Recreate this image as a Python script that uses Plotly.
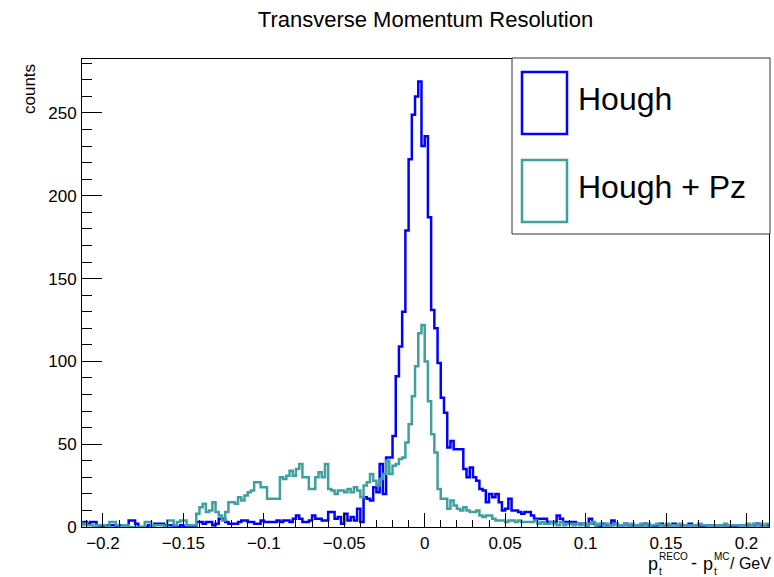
import plotly.graph_objects as go

# ---------------- data ----------------
X_MIN = -0.214
BIN_W = 0.002

hough = [
    2, 3, 2, 3, 3, 1, 0, 0, 1, 1, 1, 0, 1, 1, 1, 4, 4, 2, 0, 0,
    0, 1, 1, 2, 2, 2, 1, 1, 1, 0, 0, 1, 0, 0, 0, 0, 3, 3, 2, 3,
    3, 1, 2, 5, 5, 3, 2, 2, 2, 3, 4, 4, 3, 3, 2, 2, 4, 3, 3, 3,
    3, 4, 3, 4, 4, 3, 5, 7, 5, 3, 3, 4, 7, 5, 5, 4, 4, 9,
    9, 5, 6, 2, 8, 4, 6, 4, 11, 3, 18, 17, 16, 24, 21, 38, 20, 42, 42, 55,
    91, 109, 130, 179, 222, 249, 260, 269, 230,
    236, 187, 131, 120, 99, 78, 69, 48, 52, 47,
    47, 47, 35, 30, 36, 30, 28, 23, 22, 15,
    20, 18, 20, 15, 10, 11, 17, 10, 10, 9,
    8, 9, 9, 7, 5, 5, 5, 5, 3, 3,
    3, 7, 5, 3, 3, 3, 3, 2, 2, 2,
    1, 5, 2, 1, 0, 2, 1, 1, 4, 2,
    1, 1, 2, 1, 1, 1, 1, 1, 2, 1,
    1, 0, 1, 2, 1, 1, 1, 2, 1, 1,
    1, 1, 2, 1, 1, 1, 0, 1, 1, 1,
    1, 1, 1, 1, 1, 0, 0, 1, 1, 1,
    1, 1, 1, 2, 1, 1, 1,
]

hough_pz = [
    1, 2, 1, 1, 0, 1, 1, 1, 0, 3, 3, 1, 0, 1, 1, 0, 0, 0, 0, 0,
    3, 3, 1, 1, 1, 1, 0, 4, 4, 1, 3, 4, 4, 1, 1, 1,
    8, 12, 14, 9, 10, 15, 9, 7, 4, 9,
    15, 15, 14, 18, 16, 19, 21, 22, 27, 27,
    24, 24, 17, 17, 17, 17, 30, 29, 31, 34,
    31, 35, 38, 30, 30, 23, 23, 30, 33, 30,
    38, 23,
    22, 20, 22, 22, 21, 23, 21, 24, 22, 18,
    25, 27, 32, 28, 25, 29, 32, 40, 32, 37,
    38, 41, 42, 51, 62, 79, 97, 117, 122,
    100, 76, 56, 45, 23, 17, 17, 11, 16, 13,
    11, 10, 12, 10, 9, 9, 10, 7, 6, 7,
    7, 5, 4, 4, 4, 3, 4, 4, 3, 4,
    3, 3, 3, 3, 4, 2, 3, 2, 2, 3,
    2, 1, 3, 1, 2, 2, 1, 2, 1, 2,
    1, 2, 3, 1, 2, 1, 2, 1, 1, 2,
    1, 1, 2, 1, 2, 1, 1, 2, 1, 2,
    1, 1, 2, 1, 1, 2, 1, 1, 1, 2,
    1, 1, 1, 1, 1, 2, 1, 1, 1, 1,
    1, 1, 1, 2, 1, 1, 1, 1, 1, 1,
    2, 1, 2, 1, 2, 1, 2,
]

series_names = ["Hough", "Hough + Pz"]
series_colors = ["#0000ff", "#40a0a0"]

# ---------------- figure ----------------
FONT = "Liberation Sans, Arial, Helvetica, sans-serif"
W, H = 774, 577
ML, MR, MT, MB = 82, 5, 59, 50
PW, PH = W - ML - MR, H - MT - MB


def px2paper(px, py):
    return (px - ML) / PW, (H - MB - py) / PH


def steps(counts):
    xs = [X_MIN + BIN_W * i for i in range(len(counts) + 1)]
    ys = list(counts) + [counts[-1]]
    return xs, ys


fig = go.Figure()
for vals, name, col in zip([hough, hough_pz], series_names, series_colors):
    xs, ys = steps(vals)
    fig.add_trace(go.Scatter(x=xs, y=ys, mode="lines", line=dict(color=col, width=2.5, shape="hv"),
                             name=name, showlegend=False))

fig.update_layout(
    width=W, height=H,
    margin=dict(l=ML, r=MR, t=MT, b=MB),
    paper_bgcolor="white", plot_bgcolor="white",
    font=dict(family=FONT, color="black", size=17),
    title=dict(text="Transverse Momentum Resolution", x=0.5, xref="paper", xanchor="center",
               y=1 - 19 / H, yref="container", yanchor="middle",
               font=dict(family=FONT, size=22, color="black")),
)

fig.update_xaxes(
    range=[-0.213, 0.214], showgrid=False, zeroline=False,
    showline=True, linecolor="black", linewidth=1, mirror=True,
    ticks="inside", ticklen=14, tickcolor="black", tickwidth=1,
    tick0=0, dtick=0.05,
    minor=dict(ticks="inside", ticklen=7, dtick=0.01, tick0=0, tickcolor="black", showgrid=False),
    tickfont=dict(family=FONT, size=17), ticklabelstandoff=1,
)
fig.update_yaxes(
    range=[0, 282.6], showgrid=False, zeroline=False,
    showline=True, linecolor="black", linewidth=1, mirror=True,
    ticks="inside", ticklen=20, tickcolor="black", tickwidth=1,
    tick0=0, dtick=50,
    minor=dict(ticks="inside", ticklen=10, dtick=10, tick0=0, tickcolor="black", showgrid=False),
    tickfont=dict(family=FONT, size=17), ticklabelstandoff=1,
)

ann = []
# y-axis title
x0, y0 = px2paper(30, 62)
ann.append(dict(text="counts", x=x0, y=y0, xref="paper", yref="paper", textangle=-90,
                xanchor="center", yanchor="top", showarrow=False, font=dict(family=FONT, size=17)))

# x-axis title pieces (p_t^RECO - p_t^MC / GeV)
def piece(text, px, py, size, anchor="left"):
    xx, yy = px2paper(px, py)
    ann.append(dict(text=text, x=xx, y=yy, xref="paper", yref="paper", xanchor=anchor, yanchor="middle",
                    showarrow=False, font=dict(family=FONT, size=size)))

piece("p", 646, 564, 18)
piece("RECO", 657, 556, 10)
piece("t", 657, 571, 10)
piece("-", 689, 563, 18)
piece("p", 701, 564, 18)
piece("MC", 712, 556, 10)
piece("t", 712, 571, 10)
piece("/ GeV", 773, 563, 16, anchor="right")

# legend (ROOT style)
shapes = []
lx0, ly0 = px2paper(512, 234)
lx1, ly1 = px2paper(770, 58)
shapes.append(dict(type="rect", xref="paper", yref="paper", x0=lx0, y0=ly0, x1=lx1, y1=ly1,
                   line=dict(color="#333333", width=1), fillcolor="white", layer="above"))
box_rows = [(72, 134, 99), (160, 222, 187)]
for (top, bot, ty), name, col in zip(box_rows, series_names, series_colors):
    bx0, by0 = px2paper(522, bot)
    bx1, by1 = px2paper(567, top)
    shapes.append(dict(type="rect", xref="paper", yref="paper", x0=bx0, y0=by0, x1=bx1, y1=by1,
                       line=dict(color=col, width=2.5), fillcolor="rgba(0,0,0,0)", layer="above"))
    tx, tyy = px2paper(576, ty)
    ann.append(dict(text=name, x=tx, y=tyy, xref="paper", yref="paper", xanchor="left", yanchor="middle",
                    showarrow=False, font=dict(family=FONT, size=32)))

fig.update_layout(annotations=ann, shapes=shapes)
fig.write_html("out.html")
